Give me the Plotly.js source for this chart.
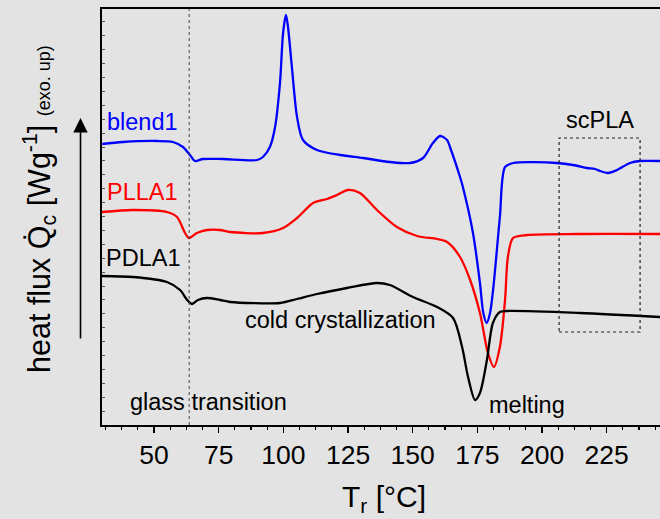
<!DOCTYPE html>
<html>
<head>
<meta charset="utf-8">
<script src="https://cdn.plot.ly/plotly-3.0.1.min.js"></script>
<style>
  html, body { margin: 0; padding: 0; background: #e3e3e3; }
  #chart { width: 660px; height: 519px; }
</style>
</head>
<body>
<div id="chart"></div>
<script>
// DSC heating scans: temperature T (°C) and heat flux (arbitrary, curves offset)
const blendT = [30.0, 38.0, 51.2, 57.3, 61.2, 63.9, 65.8, 68.9, 76.7, 89.8, 92.1, 94.8, 96.8, 98.7, 99.9, 101.0, 101.8, 103.3, 105.3, 107.6, 113.0, 121.9, 130.8, 141.2, 149.0, 154.0, 157.8, 160.6, 163.3, 164.4, 168.3, 169.4, 173.3, 176.0, 177.3, 178.6, 179.9, 181.2, 183.7, 185.7, 188.9, 205.8, 212.0, 217.4, 220.5, 222.4, 225.5, 229.0, 234.0, 237.9, 245.6];
const blendQ = [2.81, 2.83, 2.84, 2.83, 2.78, 2.70, 2.64, 2.66, 2.66, 2.65, 2.68, 2.78, 2.98, 3.42, 3.92, 4.10, 3.98, 3.58, 3.08, 2.85, 2.75, 2.70, 2.67, 2.63, 2.62, 2.67, 2.82, 2.89, 2.85, 2.78, 2.48, 2.38, 1.92, 1.42, 1.12, 1.02, 1.12, 1.38, 2.08, 2.58, 2.62, 2.62, 2.60, 2.57, 2.56, 2.54, 2.52, 2.55, 2.62, 2.64, 2.64];

const pllaT = [29.9, 41.9, 55.0, 58.9, 62.0, 63.5, 66.6, 70.5, 75.5, 79.4, 92.1, 99.9, 105.3, 111.5, 116.9, 120.7, 125.0, 129.6, 136.2, 143.9, 151.7, 159.4, 163.3, 168.3, 172.2, 176.0, 179.1, 181.4, 183.7, 185.7, 186.8, 188.8, 194.2, 214.7, 245.6];
const pllaQ = [2.13, 2.15, 2.13, 2.08, 1.92, 1.87, 1.92, 1.95, 1.95, 1.93, 1.92, 1.97, 2.07, 2.22, 2.26, 2.30, 2.35, 2.32, 2.15, 1.98, 1.89, 1.86, 1.83, 1.68, 1.45, 1.12, 0.72, 0.58, 0.78, 1.25, 1.68, 1.87, 1.90, 1.91, 1.91];

const pdlaT = [29.9, 41.9, 55.0, 60.1, 62.8, 64.7, 67.0, 70.5, 75.5, 79.4, 98.7, 105.3, 113.0, 124.6, 136.2, 141.2, 150.1, 159.4, 165.6, 169.1, 171.4, 174.1, 176.0, 178.7, 181.0, 183.7, 186.5, 214.7, 245.6];
const pdlaQ = [1.49, 1.48, 1.43, 1.35, 1.25, 1.21, 1.25, 1.27, 1.25, 1.23, 1.22, 1.26, 1.31, 1.37, 1.42, 1.40, 1.28, 1.18, 1.07, 0.78, 0.48, 0.25, 0.32, 0.65, 1.02, 1.13, 1.14, 1.12, 1.08];

const seriesNames = ['blend1', 'PLLA1', 'PDLA1'];
const seriesColors = ['#0000ff', '#ff0000', '#000000'];

// Glass transition marker and the scPLA melting window
const tgLine = 63.6;
const scWindowT = [206.6, 237.9];
const scWindowQ = [0.93, 2.87];

const FONT = 'Liberation Sans, Arial, Helvetica, sans-serif';

function curve(x, y, i) {
  return {
    x: x, y: y, name: seriesNames[i], type: 'scatter', mode: 'lines',
    line: { color: seriesColors[i], width: 2.3, shape: 'spline', smoothing: 0.8 },
    hoverinfo: 'x+y+name'
  };
}

const data = [
  curve(blendT, blendQ, 0),
  curve(pllaT, pllaQ, 1),
  curve(pdlaT, pdlaQ, 2)
];

// px helpers for paper-anchored text (plot box: x 102..660, y 9..425)
const px = v => (v - 102) / 558;
const py = v => (425 - v) / 416;

const label = (text, x, y, color, xanchor) => ({
  text: text, xref: 'paper', yref: 'paper', x: px(x), y: py(y),
  xanchor: xanchor || 'left', yanchor: 'middle', showarrow: false,
  font: { family: FONT, size: 23.5, color: color || '#000' }
});

const layout = {
  width: 660, height: 519,
  margin: { l: 102, r: 0, t: 9, b: 94, pad: 0 },
  paper_bgcolor: '#e3e3e3', plot_bgcolor: '#e3e3e3',
  showlegend: false,
  font: { family: FONT, color: '#000' },
  xaxis: {
    range: [29.9, 245.6], tick0: 0, dtick: 25,
    ticks: 'outside', ticklen: 6, tickwidth: 1.5, tickcolor: '#000',
    showline: true, linewidth: 1.6, linecolor: '#000', mirror: true,
    showgrid: false, zeroline: false,
    tickfont: { family: FONT, size: 26.5, color: '#000' },
    minor: { tick0: 0, dtick: 6.25, ticks: 'outside', ticklen: 3.5, tickwidth: 1.2, tickcolor: '#000', showgrid: false }
  },
  yaxis: {
    range: [0, 4.16], tick0: 0, dtick: 0.139,
    ticks: 'inside', ticklen: 3, tickwidth: 1, tickcolor: '#555',
    showticklabels: false,
    showline: true, linewidth: 1.6, linecolor: '#000', mirror: false,
    showgrid: false, zeroline: false
  },
  shapes: [
    { type: 'line', xref: 'x', yref: 'paper', x0: tgLine, x1: tgLine, y0: 0, y1: 1,
      line: { color: '#444', width: 1, dash: 'dot' } },
    { type: 'rect', xref: 'x', yref: 'y', x0: scWindowT[0], x1: scWindowT[1], y0: scWindowQ[0], y1: scWindowQ[1],
      line: { color: '#222', width: 1.2, dash: '3px,3px' }, fillcolor: 'rgba(0,0,0,0)' }
  ],
  annotations: [
    label(seriesNames[0], 105, 122, seriesColors[0]),
    label(seriesNames[1], 105, 192, seriesColors[1]),
    label(seriesNames[2], 104, 258, seriesColors[2]),
    label('glass transition', 128, 402),
    label('cold crystallization', 243, 320),
    label('melting', 487, 405),
    label('scPLA', 600, 120, '#000', 'center'),
    {
      text: 'T<sub>r</sub> [°C]', xref: 'paper', yref: 'paper', x: px(384), y: py(498),
      xanchor: 'center', yanchor: 'middle', showarrow: false,
      font: { family: FONT, size: 30, color: '#000' }
    },
    {
      text: 'heat flux Q\u0307<sub>c</sub> [Wg<sup>-1</sup>] <span style="font-size:18px">(exo. up)</span>',
      xref: 'paper', yref: 'paper', x: px(40), y: py(209), textangle: -90,
      xanchor: 'center', yanchor: 'middle', showarrow: false,
      font: { family: FONT, size: 30.5, color: '#000' }
    },
    {
      text: '', xref: 'paper', yref: 'paper', x: px(80.5), y: py(118),
      axref: 'pixel', ayref: 'pixel', ax: 0, ay: 222,
      showarrow: true, arrowhead: 2, arrowsize: 1.8, arrowwidth: 1.6, arrowcolor: '#000',
      standoff: 0, startstandoff: 0
    }
  ]
};

Plotly.newPlot('chart', data, layout, { displayModeBar: false, staticPlot: true });
</script>
</body>
</html>
